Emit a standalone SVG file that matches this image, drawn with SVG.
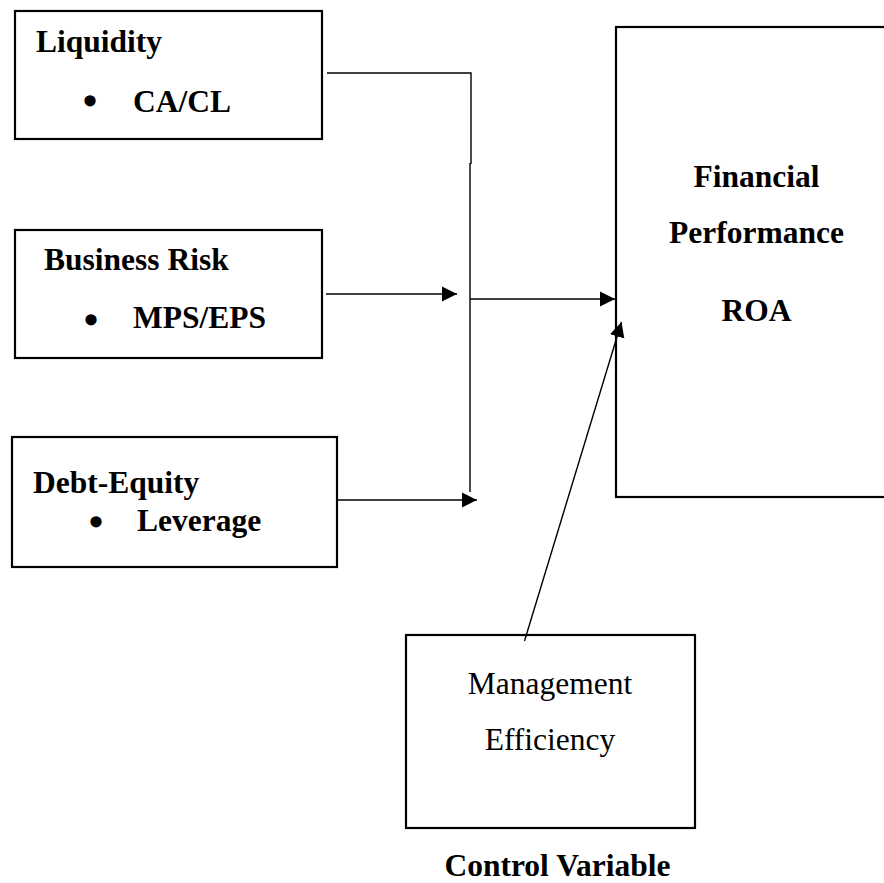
<svg xmlns="http://www.w3.org/2000/svg" width="884" height="883" viewBox="0 0 884 883">
<style>
.box{fill:#fff;stroke:#000;stroke-width:2.2}
.b{font-family:"Liberation Serif","Times New Roman",serif;font-weight:bold;font-size:31.5px;fill:#000}
.r{font-family:"Liberation Serif","Times New Roman",serif;font-size:31.5px;fill:#000}
.bul{font-family:"Liberation Serif","Times New Roman",serif;font-size:40px;fill:#000;stroke:#000;stroke-width:1.6;text-anchor:middle}
.c{text-anchor:middle}
.ln{fill:none;stroke:#000;stroke-width:1.4}
</style>
<defs>
<marker id="ah" markerUnits="userSpaceOnUse" markerWidth="16" markerHeight="16" viewBox="0 0 16 16" refX="15" refY="8" orient="auto">
<path d="M0,0.5 L15,8 L0,15.5 Z" fill="#000"/>
</marker>
</defs>
<g id="liquidity">
<rect class="box" x="15" y="11" width="307" height="128"/>
<text class="b" x="36" y="52">Liquidity</text>
<text class="bul" x="90" y="114.5">•</text>
<text class="b" x="133" y="112">CA/CL</text>
</g>
<g id="business-risk">
<rect class="box" x="15" y="230" width="307" height="128"/>
<text class="b" x="44" y="270">Business Risk</text>
<text class="bul" x="91" y="333.5">•</text>
<text class="b" x="133" y="328">MPS/EPS</text>
</g>
<g id="debt-equity">
<rect class="box" x="12" y="437" width="325" height="130"/>
<text class="b" x="33" y="493">Debt-Equity</text>
<text class="bul" x="96" y="535.5">•</text>
<text class="b" x="137" y="531">Leverage</text>
</g>
<g id="financial-performance">
<rect class="box" x="616" y="27" width="290" height="470"/>
<text class="b c" x="756.5" y="187">Financial</text>
<text class="b c" x="756.5" y="243">Performance</text>
<text class="b c" x="756.5" y="321">ROA</text>
</g>
<g id="management-efficiency">
<rect class="box" x="406" y="635" width="289" height="193"/>
<text class="r c" x="550" y="694">Management</text>
<text class="r c" x="550" y="750">Efficiency</text>
</g>
<g id="control-variable-label">
<text class="b c" x="557.5" y="876">Control Variable</text>
</g>
<g id="connectors">
<polyline class="ln" points="327,73 471,73 471,164"/>
<line class="ln" x1="470" y1="163" x2="470" y2="492"/>
<line class="ln" x1="326" y1="294" x2="457" y2="294" marker-end="url(#ah)"/>
<line class="ln" x1="338" y1="500" x2="477" y2="500" marker-end="url(#ah)"/>
<line class="ln" x1="470" y1="299" x2="615" y2="299" marker-end="url(#ah)"/>
<line class="ln" x1="524.5" y1="641" x2="621.5" y2="322" marker-end="url(#ah)"/>
</g>
</svg>
